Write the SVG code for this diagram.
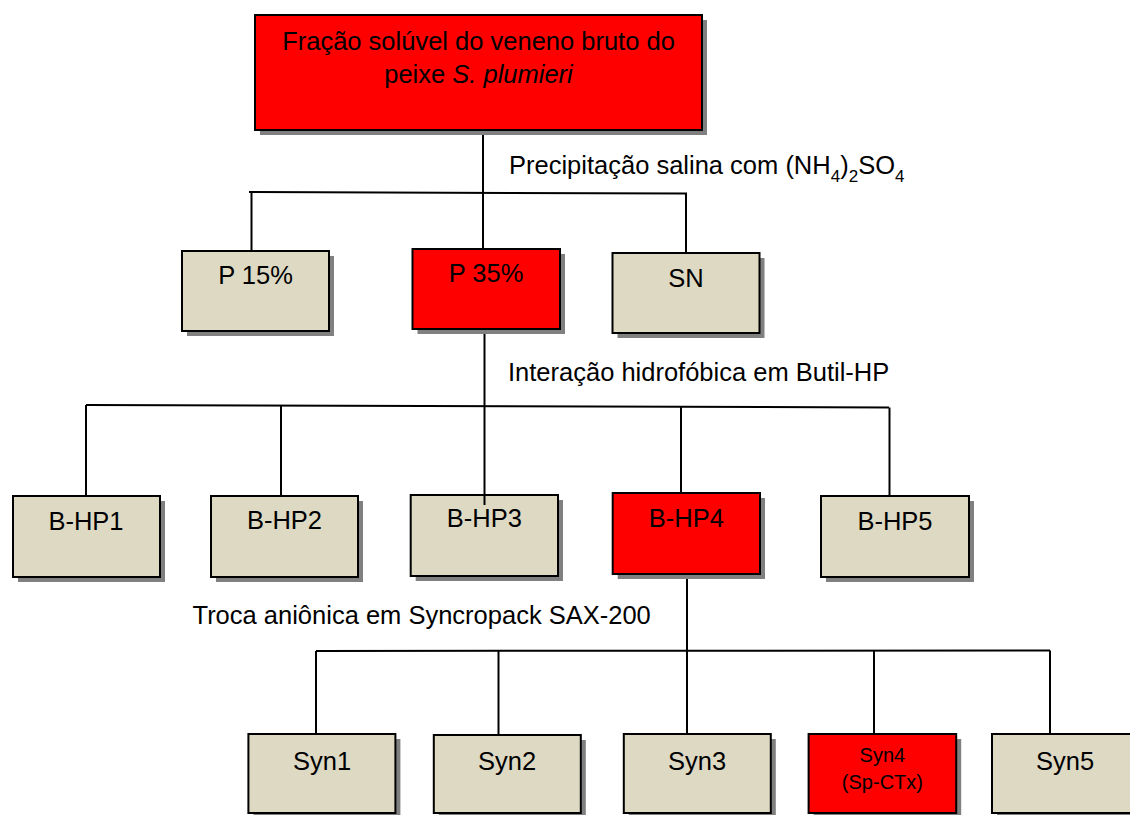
<svg xmlns="http://www.w3.org/2000/svg" width="1130" height="815" viewBox="0 0 1130 815">
<style>
text{font-family:"Liberation Sans",Arial,sans-serif;font-size:25.5px;fill:#000}
.c{text-anchor:middle}
.sh{fill:#808080}
.red{fill:#FF0000;stroke:#000;stroke-width:2}
.tan{fill:#DDD9C3;stroke:#000;stroke-width:2}
.ln{stroke:#000;stroke-width:2;fill:none}
.sub{font-size:17px}
</style>
<rect width="1130" height="815" fill="#fff"/>
<g id="connectors">
<line class="ln" x1="483" y1="130" x2="483" y2="249"/>
<line class="ln" x1="249" y1="192" x2="687" y2="193.5"/>
<line class="ln" x1="251.5" y1="193" x2="251.5" y2="251"/>
<line class="ln" x1="686" y1="194" x2="686" y2="253"/>
<line class="ln" x1="484.5" y1="329" x2="484.5" y2="505"/>
<line class="ln" x1="86" y1="405" x2="889" y2="407.5"/>
<line class="ln" x1="86" y1="405" x2="86" y2="496"/>
<line class="ln" x1="281" y1="406" x2="281" y2="496"/>
<line class="ln" x1="681" y1="407" x2="681" y2="493"/>
<line class="ln" x1="889.5" y1="407.5" x2="889.5" y2="496"/>
<line class="ln" x1="687" y1="574" x2="687" y2="734"/>
<line class="ln" x1="316" y1="651" x2="1050" y2="650.5"/>
<line class="ln" x1="316" y1="651" x2="316" y2="734"/>
<line class="ln" x1="498.5" y1="651" x2="498.5" y2="735"/>
<line class="ln" x1="874" y1="651" x2="874" y2="734"/>
<line class="ln" x1="1050" y1="650.5" x2="1050" y2="734"/>
</g>
<text x="509" y="174">Precipitação salina com (NH<tspan class="sub" dy="8">4</tspan><tspan dy="-8">)</tspan><tspan class="sub" dy="8">2</tspan><tspan dy="-8">SO</tspan><tspan class="sub" dy="8">4</tspan></text>
<text x="508" y="381">Interação hidrofóbica em Butil-HP</text>
<text x="192.5" y="624">Troca aniônica em Syncropack SAX-200</text>
<g id="root">
<rect class="sh" x="260" y="20" width="447" height="115"/>
<rect class="red" x="255" y="15" width="447" height="115"/>
<text class="c" x="478.5" y="50">Fração solúvel do veneno bruto do</text>
<text class="c" x="478.5" y="83">peixe <tspan font-style="italic">S. plumieri</tspan></text>
</g>
<g id="p15">
<rect class="sh" x="187" y="256" width="147" height="80"/>
<rect class="tan" x="182" y="251" width="147" height="80"/>
<text class="c" x="255.5" y="284">P 15%</text>
</g>
<g id="p35">
<rect class="sh" x="417.5" y="254" width="147.5" height="80"/>
<rect class="red" x="412.5" y="249" width="147.5" height="80"/>
<text class="c" x="486" y="282">P 35%</text>
</g>
<g id="sn">
<rect class="sh" x="617.5" y="258" width="147" height="80"/>
<rect class="tan" x="612.5" y="253" width="147" height="80"/>
<text class="c" x="686" y="287">SN</text>
</g>
<g id="bhp1">
<rect class="sh" x="18" y="501" width="147" height="81"/>
<rect class="tan" x="13" y="496" width="147" height="81"/>
<text class="c" x="86" y="530">B-HP1</text>
</g>
<g id="bhp2">
<rect class="sh" x="216" y="501" width="147" height="81"/>
<rect class="tan" x="211" y="496" width="147" height="81"/>
<text class="c" x="284.5" y="529">B-HP2</text>
</g>
<g id="bhp3">
<rect class="sh" x="415.7" y="500" width="147.3" height="81"/>
<rect class="tan" x="410.7" y="495" width="147.3" height="81"/>
<text class="c" x="484.4" y="527">B-HP3</text>
<line class="ln" x1="484.5" y1="495" x2="484.5" y2="505"/>
</g>
<g id="bhp4">
<rect class="sh" x="617.7" y="498" width="147.3" height="81"/>
<rect class="red" x="612.7" y="493" width="147.3" height="81"/>
<text class="c" x="686.4" y="527">B-HP4</text>
</g>
<g id="bhp5">
<rect class="sh" x="826" y="501" width="148" height="81"/>
<rect class="tan" x="821" y="496" width="148" height="81"/>
<text class="c" x="895" y="530">B-HP5</text>
</g>
<g id="syn1">
<rect class="sh" x="253.4" y="739" width="147" height="80"/>
<rect class="tan" x="248.4" y="734" width="147" height="79"/>
<text class="c" x="322" y="770">Syn1</text>
</g>
<g id="syn2">
<rect class="sh" x="438.8" y="740" width="147" height="80"/>
<rect class="tan" x="433.8" y="735" width="147" height="78"/>
<text class="c" x="507" y="770">Syn2</text>
</g>
<g id="syn3">
<rect class="sh" x="628.8" y="739" width="147" height="80"/>
<rect class="tan" x="623.8" y="734" width="147" height="79"/>
<text class="c" x="697" y="770">Syn3</text>
</g>
<g id="syn4">
<rect class="sh" x="813.6" y="739" width="147.6" height="80"/>
<rect class="red" x="808.6" y="734" width="147.6" height="79"/>
<text class="c" x="882.4" y="762" style="font-size:20px">Syn4</text>
<text class="c" x="882.4" y="789" style="font-size:20px">(Sp-CTx)</text>
</g>
<g id="syn5">
<rect class="sh" x="997" y="739" width="147" height="80"/>
<rect class="tan" x="992" y="734" width="147" height="79"/>
<text class="c" x="1065" y="770">Syn5</text>
</g>
</svg>
